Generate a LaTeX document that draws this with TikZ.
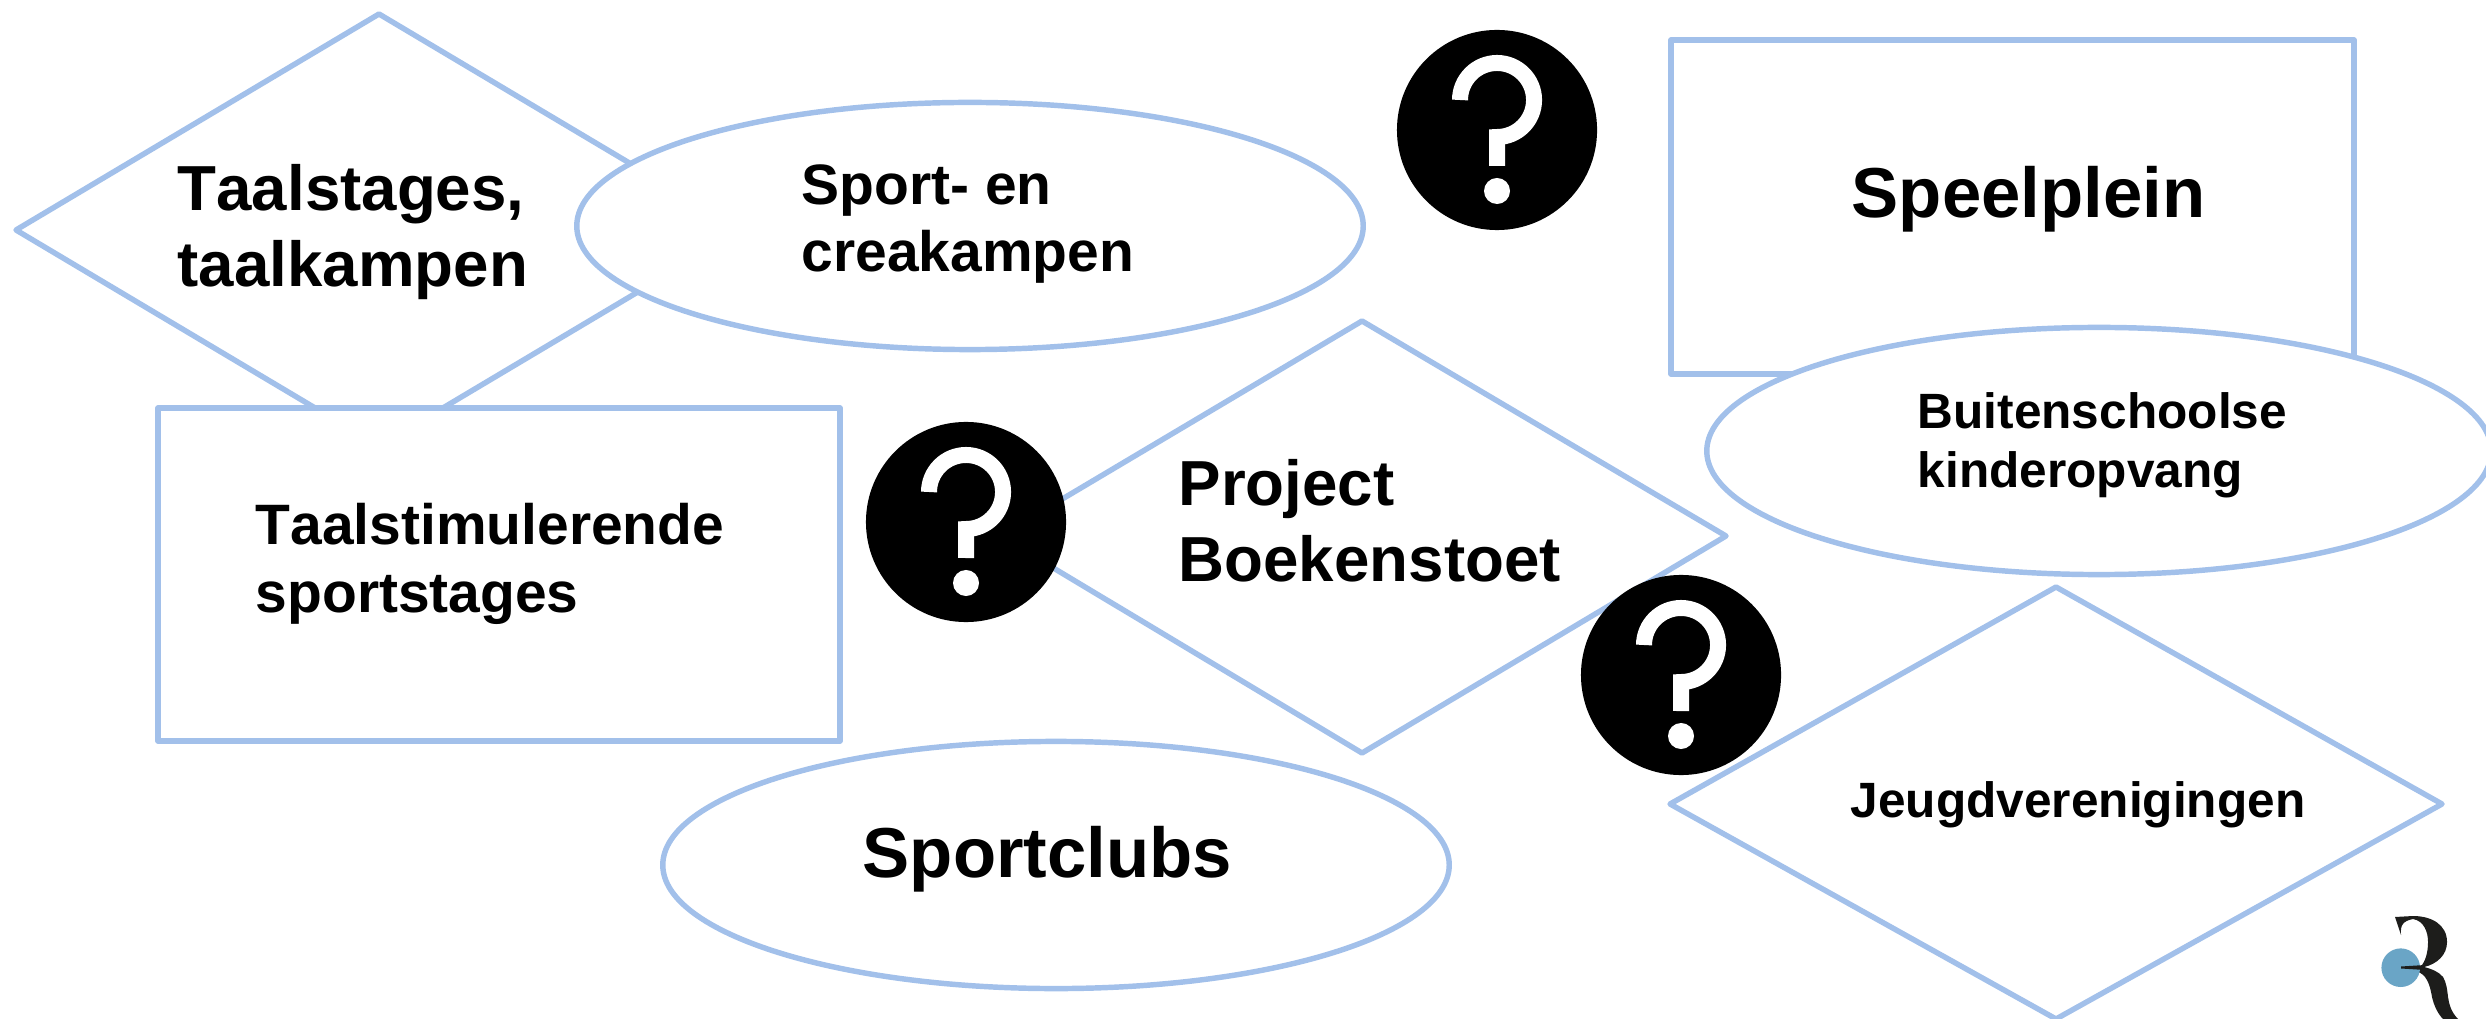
\documentclass[tikz,border=0pt]{standalone}
\usepackage{fontspec}
\setmainfont[Kerning=Off]{Liberation Sans}
\usetikzlibrary{shapes.geometric}
\definecolor{edgeblue}{HTML}{A2C0EA}
\definecolor{logoblue}{HTML}{6AA5C6}
\definecolor{logoblack}{HTML}{1D1D1B}
\tikzset{
  x=0.01cm,y=-0.01cm,
  shapeline/.style={draw=edgeblue,line width=1.55pt,fill=white,line join=round},
  txt/.style={inner sep=0pt,anchor=west,align=left},
  ask/.style={circle,fill=black,minimum size=2cm,inner sep=0pt},
}
\newcommand{\fsa}{\fontsize{20.1}{24}\bfseries\selectfont}
\newcommand{\fsb}{\fontsize{18.1}{21.6}\bfseries\selectfont}
\newcommand{\fsc}{\fontsize{16.2}{19.2}\bfseries\selectfont}
\newcommand{\fsd}{\fontsize{14.1}{16.8}\bfseries\selectfont}
\newcommand{\askmark}[2]{%
  \begin{scope}[shift={(#1,#2)}]
    \draw[white,line width=4.55pt] (-37,-30) arc[start angle=180,end angle=-90,radius=0.37cm] -- (0,36);
    \fill[white] (0,61) circle[radius=0.13cm];
  \end{scope}}
\begin{document}
\begin{tikzpicture}
\useasboundingbox (0,0) rectangle (2486,1019);
\begin{scope}
\clip (0,0) rectangle (2486,1019);
% diamond 1
\draw[shapeline] (16,230) -- (379,14) -- (742,230) -- (379,446) -- cycle;
\draw[shapeline] (970,226) ellipse[x radius=3.93cm,y radius=1.235cm];
\draw[shapeline] (158,408) rectangle (840,741);
% Speelplein
\draw[shapeline] (1671,40) rectangle (2354,374);
\draw[shapeline] (2099,451) ellipse[x radius=3.92cm,y radius=1.235cm];
% Project
\draw[shapeline] (1000,536) -- (1362,321) -- (1726,536) -- (1362,753) -- cycle;
% Sportclubs
\draw[shapeline] (1056,865) ellipse[x radius=3.93cm,y radius=1.235cm];
% Jeugd
\draw[shapeline] (1670,804) -- (2056,587) -- (2442,804) -- (2056,1019) -- cycle;
% question marks
\node[ask] (q1) at (1497,130) {};
\askmark{1497}{130}
\node[ask] (q2) at (966,522) {};
\askmark{966}{522}
\node[ask] (q3) at (1681,675) {};
\askmark{1681}{675}
% logo
\fill[logoblack] (2395,917) -- (2401,935) .. controls (2400,925) and (2403,921) .. (2413,919)
  .. controls (2424,921) and (2428,932) .. (2428,942)
  .. controls (2428,953) and (2425,962) .. (2421,966)
  -- (2401,967) -- (2401,968.5) -- (2410,969.5)
  .. controls (2418,971) and (2423,974) .. (2425,977)
  .. controls (2430,984) and (2431,992) .. (2432,997)
  .. controls (2434,1006) and (2438,1014) .. (2443,1019)
  -- (2458,1019) .. controls (2451,1012) and (2449,1004) .. (2448,997)
  .. controls (2447,988) and (2446,982) .. (2443,977)
  .. controls (2439,972) and (2432,969) .. (2424,967)
  .. controls (2437,964) and (2447,955) .. (2447,942)
  .. controls (2447,925) and (2432,916) .. (2413,916) -- cycle;
\fill[logoblue] (2400.7,967.7) circle[radius=0.193cm];
\fill[logoblack] (2401,966.5) -- (2425,965) -- (2425,970) -- (2401,968.5) -- cycle;
% text
\node[txt,font=\fsb] (t1) at (177,232) {Taalstages,\\taalkampen};
\node[txt,font=\fsc] (t2) at (801,224) {Sport- en\\creakampen};
\node[txt,font=\fsa] (t3) at (1851,199) {Speelplein};
\node[txt,font=\fsc] (t4) at (255,564) {Taalstimulerende\\sportstages};
\node[txt,font=\fsd] (t5) at (1917,445) {Buitenschoolse\\kinderopvang};
\node[txt,font=\fsb] (t6) at (1178,521) {Project\\Boekenstoet};
\node[txt,font=\fsa] (t7) at (862,859) {Sportclubs};
\node[txt,font=\fsd] (t8) at (1850,805) {Jeugdverenigingen};
\end{scope}
\end{tikzpicture}
\end{document}
